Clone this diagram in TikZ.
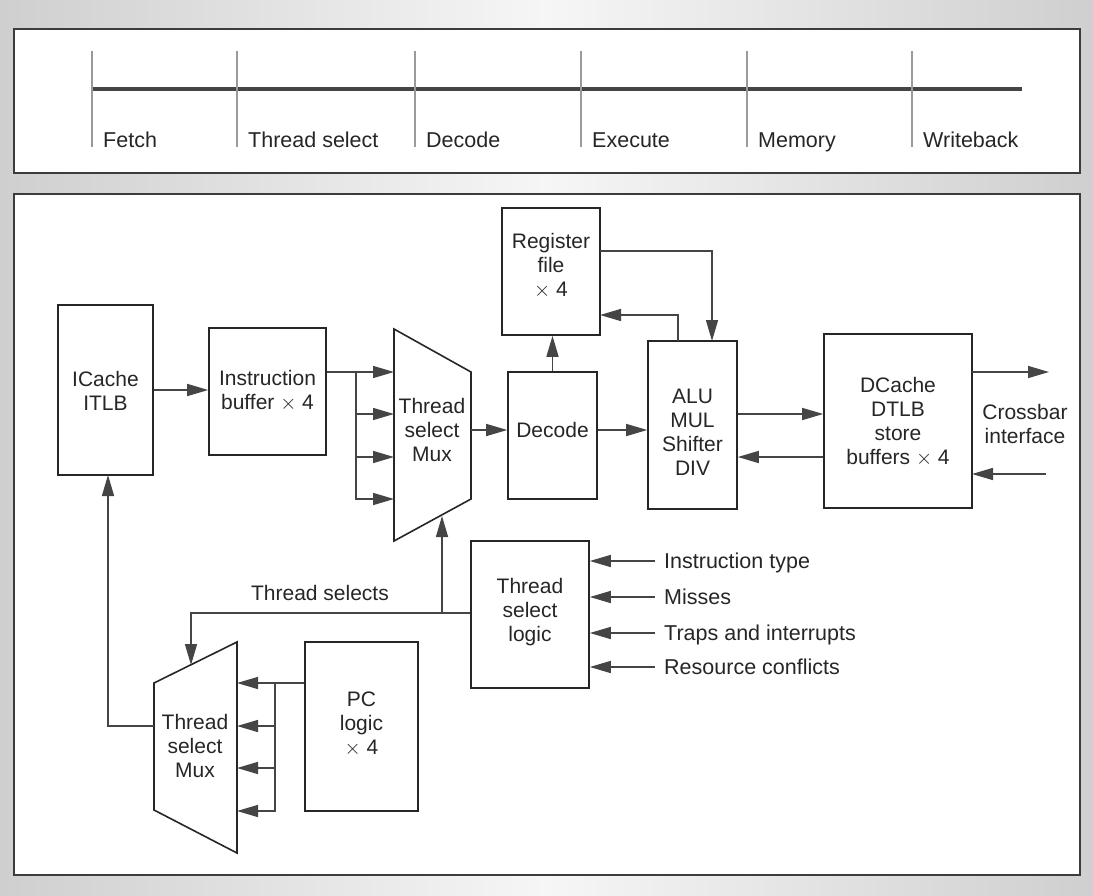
\documentclass[tikz,border=0pt]{standalone}
\usepackage{fontspec}
\setmainfont{Liberation Sans}
\usetikzlibrary{arrows.meta}
\definecolor{bgside}{HTML}{CFCFCF}
\definecolor{bgmid}{HTML}{F6F6F6}
\definecolor{ink}{HTML}{262626}
\definecolor{wire}{HTML}{454545}
\definecolor{tick}{HTML}{9A9A9A}
\tikzset{
  box/.style={draw=ink, line width=1.6pt, fill=white, rectangle, inner sep=0pt},
  lbl/.style={text=ink, align=center, inner sep=0pt, font=\fontsize{21}{24}\selectfont},
  lbll/.style={text=ink, anchor=base west, inner sep=0pt, font=\fontsize{21.5}{24}\selectfont},
  wireline/.style={draw=wire, line width=1.5pt},
  arr/.style={wireline, -{Triangle[length=21pt,width=12pt]}},
  panel/.style={draw=ink!90, line width=1.5pt, fill=white},
}
\begin{document}
\begin{tikzpicture}[x=1pt,y=-1pt]
\useasboundingbox (0,0) rectangle (1093,895);
\fill[left color=bgside, right color=bgside, middle color=bgmid] (0,0) rectangle (1093,895);
\draw[panel] (14,29) rectangle (1080,173);
\draw[panel] (14,194) rectangle (1080,875);

% pipeline
\draw[line width=4pt, color=wire] (92,89) -- (1022,89);
\foreach \x/\t/\n in {92/Fetch/s1,237/Thread select/s2,415/Decode/s3,581/Execute/s4,747/Memory/s5,912/Writeback/s6}{
  \draw[line width=2.5pt, color=tick] (\x,51) -- (\x,147);
  \node[lbll] (\n) at (\x+11,147.5) {\t};
}

% boxes
\node[box, minimum width=95pt, minimum height=170pt] (icache) at (105.5,390) {};
\node[lbl] (icachet) at (105.5,391) {ICache\\ITLB};
\node[box, minimum width=117pt, minimum height=127pt] (ibuf) at (267.5,391.5) {};
\node[lbl] (ibuft) at (267.5,391) {Instruction\\buffer $\times$ 4};
\node[box, minimum width=89pt, minimum height=127pt] (decode) at (552.5,435.5) {};
\node[lbl] (decodet) at (552.5,430) {Decode};
\node[box, minimum width=98pt, minimum height=127pt] (regfile) at (551,271.5) {};
\node[lbl] (regfilet) at (551,266) {Register\\file\\$\times$ 4};
\node[box, minimum width=89pt, minimum height=168pt] (alu) at (692.5,425) {};
\node[lbl] (alut) at (692.5,432) {ALU\\MUL\\Shifter\\DIV};
\node[box, minimum width=148pt, minimum height=174pt] (dcache) at (898,421) {};
\node[lbl] (dcachet) at (898,422) {DCache\\DTLB\\store\\buffers $\times$ 4};
\node[lbl] (xbar) at (1025,424) {Crossbar\\interface};
\node[box, minimum width=118pt, minimum height=147pt] (tsl) at (530,614.5) {};
\node[lbl] (tslt) at (530,612) {Thread\\select\\logic};
\node[box, minimum width=113pt, minimum height=169pt] (pc) at (361.5,726.5) {};
\node[lbl] (pct) at (361.5,724) {PC\\logic\\$\times$ 4};

% muxes
\draw[box] (394,329) -- (471,372) -- (471,499) -- (394,541) -- cycle;
\node[lbl] (mux1) at (432,430) {Thread\\select\\Mux};
\draw[box] (154,683) -- (237,642) -- (237,853) -- (154,810) -- cycle;
\node[lbl] (mux2) at (195,746) {Thread\\select\\Mux};

% coordinates
\coordinate (m1a) at (394,372);
\coordinate (m1b) at (394,414);
\coordinate (m1c) at (394,457);
\coordinate (m1d) at (394,499);
\coordinate (b1) at (356,372);
\coordinate (m1o) at (471,430);
\coordinate (m1bot) at (442,516);
\coordinate (j1) at (442,613);
\coordinate (ts1) at (191,613);
\coordinate (m2top) at (191,665);
\coordinate (m2o) at (154,726);
\coordinate (c2) at (108,726);
\coordinate (icb) at (108,475);
\coordinate (m2a) at (237,683);
\coordinate (m2b) at (237,726);
\coordinate (m2c) at (237,768);
\coordinate (m2d) at (237,811);
\coordinate (b2) at (275,683);
\coordinate (rfo) at (600,251);
\coordinate (rfc) at (712,251);
\coordinate (alut1) at (712,341);
\coordinate (alut2) at (678,341);
\coordinate (alur) at (678,315);
\coordinate (rfi) at (600,315);
\coordinate (xo1) at (972,372);
\coordinate (xo2) at (1049,372);
\coordinate (xi1) at (1046,474);
\coordinate (xi2) at (972,474);

% connectors
\draw[arr] (icache.east) -- (icache.east -| ibuf.west);
\draw[arr] (ibuf.east |- m1a) -- (m1a);
\draw[arr] (b1) |- (m1b);
\draw[arr] (b1) |- (m1c);
\draw[arr] (b1) |- (m1d);
\draw[arr] (m1o) -- (m1o -| decode.west);
\draw[arr] (decode.north) -- (decode.north |- regfile.south);
\draw[arr] (rfo) -- (rfc) -- (alut1);
\draw[arr] (alut2) -- (alur) -- (rfi);
\draw[arr] (decode.east |- m1o) -- (m1o -| alu.west);
\draw[arr] (alu.east |- 0,414) -- (dcache.west |- 0,414);
\draw[arr] (dcache.west |- 0,457) -- (alu.east |- 0,457);
\draw[arr] (xo1) -- (xo2);
\draw[arr] (xi1) -- (xi2);
\foreach \y/\t/\n in {561/Instruction type/i1,597/Misses/i2,633/Traps and interrupts/i3,667/Resource conflicts/i4}{
  \draw[arr] (655,\y) -- (tsl.east |- 0,\y);
  \node[lbll] (\n) at (664,\y+7.5) {\t};
}
\draw[arr] (tsl.west |- j1) -- (ts1) -- (m2top);
\draw[arr] (j1) -- (m1bot);
\node[lbl] (tsel) at (320,593) {Thread selects};
\draw[arr] (m2o) -- (c2) -- (icb);
\draw[arr] (pc.west |- m2a) -- (m2a);
\draw[arr] (b2) |- (m2b);
\draw[arr] (b2) |- (m2c);
\draw[arr] (b2) |- (m2d);
\end{tikzpicture}
\end{document}
